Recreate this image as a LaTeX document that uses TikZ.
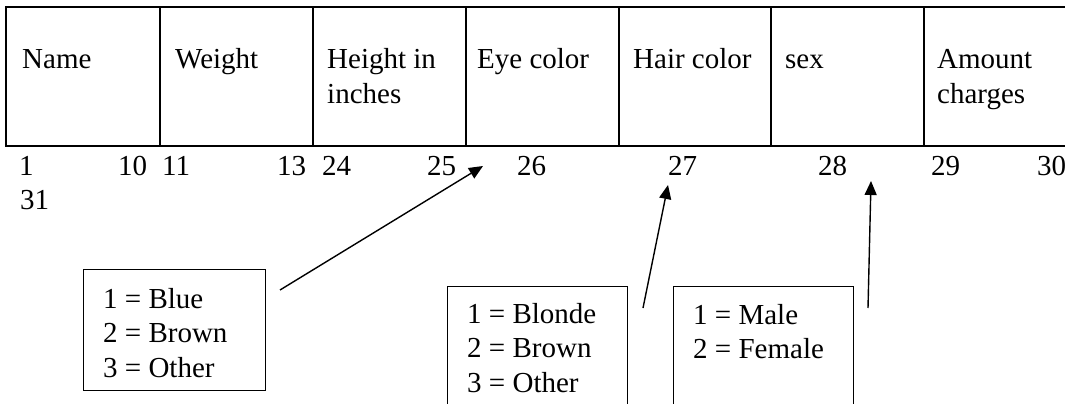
\documentclass[tikz,border=0pt]{standalone}
\usepackage{fontspec}
\setmainfont{Liberation Serif}
\usetikzlibrary{arrows.meta}
\begin{document}
\begin{tikzpicture}[x=1pt,y=-1pt,
  lbl/.style={anchor=base west, inner sep=0pt, font=\fontsize{29}{34.5}\selectfont},
  heavyrule/.style={line width=2pt},
  lightrule/.style={line width=1.2pt},
  legend/.style={draw, line width=1.4pt, anchor=north west, inner sep=0pt},
  pointer/.style={line width=1.4pt, -{Triangle[length=14pt,width=12pt]}}]
\useasboundingbox (0,0) rectangle (1065,404);
\clip (0,0) rectangle (1065,404);
\fill[white] (0,0) rectangle (1065,404);
% table frame
\draw[heavyrule] (1070,7) -- (6,7) -- (6,146) -- (1070,146);
\draw[heavyrule] (160,7) -- (160,146);
\draw[lightrule] (313,7) -- (313,146);
\draw[heavyrule] (466,7) -- (466,146);
\draw[heavyrule] (619,7) -- (619,146);
\draw[heavyrule] (771,7) -- (771,146);
\draw[lightrule] (924,7) -- (924,146);
% header labels
\node[lbl] (hname) at (22,69) {Name};
\node[lbl] (hweight) at (175,69) {Weight};
\node[lbl] (hheight) at (327,69) {\begin{tabular}[t]{@{}l@{}}Height in\\inches\end{tabular}};
\node[lbl] (heye) at (477,69) {Eye color};
\node[lbl] (hhair) at (633,69) {Hair color};
\node[lbl] (hsex) at (785,69) {sex};
\node[lbl] (hamount) at (937,69) {\begin{tabular}[t]{@{}l@{}}Amount\\charges\end{tabular}};
% column numbers
\node[lbl] (n1) at (19,175) {1};
\node[lbl] (n10) at (118,175) {10};
\node[lbl] (n11) at (162,175) {11};
\node[lbl] (n13) at (277,175) {13};
\node[lbl] (n24) at (322,175) {24};
\node[lbl] (n25) at (427,175) {25};
\node[lbl] (n26) at (517,175) {26};
\node[lbl] (n27) at (668,175) {27};
\node[lbl] (n28) at (818,175) {28};
\node[lbl] (n29) at (931,175) {29};
\node[lbl] (n30) at (1037,175) {30};
\node[lbl] (n31) at (20,209) {31};
% legend boxes
\node[legend, minimum width=182pt, minimum height=121pt] (eyebox) at (83,269) {};
\node[lbl] (eyetext) at (103,308) {\begin{tabular}[t]{@{}l@{}}1 = Blue\\2 = Brown\\3 = Other\end{tabular}};
\node[legend, minimum width=180pt, minimum height=140pt] (hairbox) at (447,286) {};
\node[lbl] (hairtext) at (467,323) {\begin{tabular}[t]{@{}l@{}}1 = Blonde\\2 = Brown\\3 = Other\end{tabular}};
\node[legend, minimum width=180pt, minimum height=140pt] (sexbox) at (673,286) {};
\node[lbl] (sextext) at (693,324) {\begin{tabular}[t]{@{}l@{}}1 = Male\\2 = Female\end{tabular}};
% pointers
\coordinate (eyefrom) at (280,290);
\coordinate (eyeto) at (483,166);
\coordinate (hairfrom) at (643,308);
\coordinate (hairto) at (668,185);
\coordinate (sexfrom) at (868,308);
\coordinate (sexto) at (871,181);
\draw[pointer] (eyefrom) -- (eyeto);
\draw[pointer] (hairfrom) -- (hairto);
\draw[pointer] (sexfrom) -- (sexto);
\end{tikzpicture}
\end{document}
